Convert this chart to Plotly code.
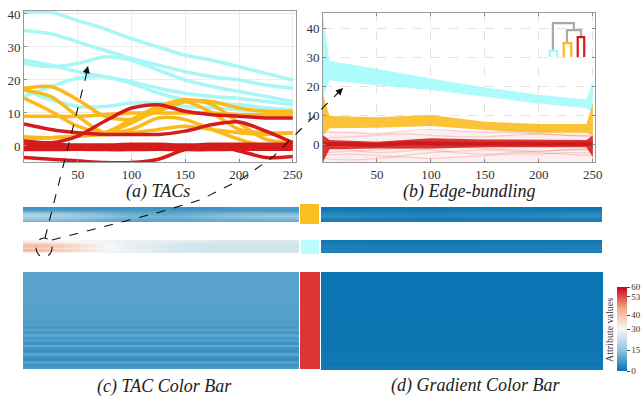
import plotly.graph_objects as go

W, H = 644, 398


def px(x):
    return x / W


def py(y):
    return 1 - y / H


CYAN = "#a8f6f6"
ORANGE = "#fbb91c"
RED = "#d41c1c"
SERIF = "Liberation Serif, Times New Roman, serif"

# ---------------- (a) TACs ----------------
tac_x = [0, 25, 50, 75, 100, 125, 150, 175, 200, 225, 250]
cyan_tacs = [
    [40.5, 40.5, 38, 35.5, 32.5, 30, 27.5, 26, 24, 22, 20],
    [35, 34, 31.5, 29, 26.5, 24.5, 22.5, 21, 20, 18.5, 17.5],
    [26, 24.5, 22.5, 21, 19.5, 17.5, 16, 15, 14.4, 13.5, 12.5],
    [25, 24, 25, 27, 26, 23, 20, 18, 16.5, 15, 13.5],
    [15, 18, 20.5, 21, 19, 16, 14, 13, 12.5, 11.5, 11],
    [17, 14, 12, 12, 13, 13, 12, 11.5, 11, 10.5, 10],
]
orange_tacs = [
    [17.5, 18, 14, 9, 8, 10.5, 13.5, 13.5, 11.5, 10.5, 10.5],
    [17, 15, 9, 4, 5, 8.5, 8, 5, 2, 0, 0],
    [14.5, 10.5, 6, 4, 7, 11, 13.5, 10, 5, 4, 4],
    [9, 9, 9, 9.5, 10, 10, 10, 10, 9.5, 9.5, 9.5],
    [2.8, 2.5, 3, 4, 8, 12, 14, 12.5, 7, 2, 1],
    [2.3, 2.5, 3, 3.5, 4, 5, 6, 5, 4, 3.5, 4],
]
red_tacs = [
    [6.7, 5, 4, 3.5, 3.5, 3.5, 4.5, 6.5, 7.3, 4.5, 1],
    [1.5, 1, 3, 7.5, 11.5, 12.5, 10.5, 9.5, 9, 8.5, 8.5],
    [0.5, 0.5, 0.3, 0.3, 0.5, 0.5, 0.3, 0.5, 0.5, 0.5, 0.5],
    [-0.4, -0.4, -0.5, -0.5, -0.4, -0.4, -0.5, -0.4, -0.4, -0.4, -0.4],
    [-1.1, -1.1, -1.0, -1.1, -1.1, -1.0, -1.1, -1.1, -1.0, -1.0, -1.0],
    [-3.5, -4, -4.5, -5, -5, -4, -1, 0.3, -1.5, -3.5, -3.2],
]

# ---------------- (b) Edge bundling ----------------
bundle_x = [0, 6, 50, 100, 150, 200, 244, 250]
cyan_top = [44, 28.6, 26, 22.6, 19.5, 17, 15.4, 22]
cyan_bot = [16, 22, 20.3, 18.6, 16.3, 14, 12.3, 11]
orange_top = [17, 9.7, 9.2, 10, 7.7, 6.9, 6.9, 14]
orange_bot = [3, 5.4, 5.6, 6.2, 4.8, 3.9, 3.9, 3]
red_top = [3, 1.4, 0.8, 2, 1.6, 1.4, 1.4, 3]
red_bot = [-6.2, -1.8, -1.5, -1.5, -1.1, -1.1, -1.1, -4.5]
pink_top = [5, 4.5, 4, 4.5, 5, 4.5, 4, 4]
pink_bot = [-6.2, -6.2, -6.2, -6.2, -6.2, -6.2, -6.2, -6.2]
faint_red = [
    [-5, -5.5, -5, -4, -3, -2.5, -2, -2.5, -3, -3.5, -4],
    [-3, -2.5, -2, -1.5, -2, -3, -3.5, -3, -2.5, -2, -2],
    [2, 2.5, 3, 3.5, 3, 2.5, 2.5, 3, 3.5, 3, 2.5],
    [-4, -3.5, -4, -4.5, -5, -4.5, -4, -3.5, -3.5, -3, -3],
    [4, 4, 3.5, 4.5, 5, 4.5, 4, 4, 3.5, 3, 3],
    [-1.5, -2, -3, -2.5, -1.5, -1, -1.5, -2, -2.5, -2, -1.5],
]
red_core = [0, 0, -0.3, 0.3, 0.2, 0.1, 0.1, 0.1, 0.1, 0.1, 0.1]

# dendrogram (data units of panel b)
dendro = [
    ([213, 213, 232.4, 232.4], [32.1, 41.7, 41.7, 39.3], "#aaaaaa"),
    ([226, 226, 239, 239], [34.8, 39.3, 39.3, 36.9], "#aaaaaa"),
    ([210, 210, 217, 217], [30, 32.1, 32.1, 30], CYAN),
    ([223, 223, 230, 230], [30, 34.8, 34.8, 30], ORANGE),
    ([236, 236, 242, 242], [30, 36.9, 36.9, 30], RED),
]

# ---------------- colour bars ----------------
strip1_left = [
    [6, 6, 6, 6, 6, 6, 6, 6, 6, 7, 7, 7],
    [10, 10, 9, 9, 8, 8, 8, 8, 8, 8, 8, 8],
    [18, 17, 15, 13, 11, 10, 10, 11, 12, 13, 13, 13],
    [19, 18, 17, 15, 13, 12, 12, 13, 14, 15, 16, 16],
    [16, 15, 14, 12, 11, 10, 10, 11, 12, 12, 13, 13],
    [12, 12, 11, 10, 9, 9, 9, 9, 10, 10, 10, 10],
]
strip1_right = [
    [1, 1, 1, 1, 1, 1, 1, 1, 1, 1, 1, 1],
    [2, 2, 2, 2, 1.5, 2, 2, 2, 2, 2, 2, 2],
    [4, 3.5, 3, 3, 3, 3, 3, 3, 3, 3.5, 4, 4],
    [5, 5, 4, 4, 3.5, 3.5, 4, 4, 4, 4.5, 5, 5],
    [2.5, 2.5, 2, 2, 2, 2, 2, 2, 2, 2.5, 2.5, 2.5],
    [2, 2, 2, 2, 2, 2, 2, 2, 2, 2, 2, 2],
]
strip2_left = [
    [31, 30, 30, 29, 28, 28, 27, 27, 26, 26, 26, 26],
    [36, 34, 32, 30, 28, 27, 26, 25, 25, 25, 25, 25],
    [42, 39, 35, 31, 28, 26, 25, 24, 24, 24, 24, 24],
    [37, 35, 33, 30, 28, 27, 26, 25, 25, 25, 25, 25],
    [43, 40, 36, 32, 29, 27, 25, 24, 24, 24, 24, 24],
    [33, 32, 31, 29, 28, 27, 26, 26, 25, 25, 25, 25],
]
strip2_right = [
    [1, 1, 1, 1, 1, 1, 1, 1, 1, 1, 1, 1],
    [1.5, 1.5, 1.5, 1.5, 1.5, 1.5, 1.5, 1.5, 1.5, 1.5, 1.5, 1.5],
    [3, 3, 2.5, 2.5, 2.5, 2.5, 2.5, 3, 3, 3, 3, 3],
    [2, 2, 2, 2, 2, 2, 2, 2, 2, 2, 2, 2],
    [3.5, 3, 3, 3, 3, 3, 3, 3, 3, 3, 3.5, 3.5],
    [2, 2, 2, 2, 2, 2, 2, 2, 2, 2, 2, 2],
]
big_left_rows = [9, 9, 9, 9, 9, 9, 9, 9, 9, 9, 8.8, 8.8, 8.6, 8.6, 8.4, 8.6, 8.2, 8.5,
                 7.6, 8.4, 7.2, 8.8, 7, 9.5, 6.8, 8, 6, 10, 6.5, 5.5, 9, 6, 5, 8.5, 5.5, 7]
big_right_rows = [0.6, 0.6, 0.6, 0.6, 0.6, 0.6, 0.6, 0.6, 0.6, 0.7, 0.6, 0.7, 0.6,
                  0.8, 0.6, 0.9, 0.7, 1.0, 0.8, 1.1, 0.9, 1.3, 1.0, 1.5]
cbar_ticks = [0, 15, 30, 40, 53, 60]
colorscale = [[0, "#0571b0"], [0.25, "#92c5de"], [0.5, "#f7f7f7"],
              [0.75, "#f4a582"], [1, "#ca0020"]]

fig = go.Figure()

# panel a
for group, col in ((cyan_tacs, CYAN), (orange_tacs, ORANGE), (red_tacs, RED)):
    for ys in group:
        fig.add_trace(go.Scatter(x=tac_x, y=ys, mode="lines",
                                 line=dict(color=col, width=3.5, shape="spline", smoothing=0.8),
                                 xaxis="x", yaxis="y", showlegend=False, hoverinfo="skip"))

# panel b
def band(top, bot, color):
    fig.add_trace(go.Scatter(x=bundle_x + bundle_x[::-1], y=top + bot[::-1], mode="lines",
                             fill="toself", fillcolor=color, line=dict(width=0),
                             xaxis="x2", yaxis="y2", showlegend=False, hoverinfo="skip"))

band(pink_top, pink_bot, "rgba(235,120,120,0.12)")
for ys in faint_red:
    fig.add_trace(go.Scatter(x=tac_x, y=ys, mode="lines",
                             line=dict(color="rgba(215,40,40,0.18)", width=1.2, shape="spline"),
                             xaxis="x2", yaxis="y2", showlegend=False, hoverinfo="skip"))
band(cyan_top, cyan_bot, "rgba(160,250,250,0.85)")
band(orange_top, orange_bot, "rgba(250,185,20,0.85)")
band(red_top, red_bot, "rgba(215,25,25,0.88)")
fig.add_trace(go.Scatter(x=tac_x, y=red_core, mode="lines",
                         line=dict(color="rgba(180,0,0,0.45)", width=4, shape="spline"),
                         xaxis="x2", yaxis="y2", showlegend=False, hoverinfo="skip"))
for xs, ys, col in dendro:
    fig.add_trace(go.Scatter(x=xs, y=ys, mode="lines", line=dict(color=col, width=2.2),
                             xaxis="x2", yaxis="y2", showlegend=False, hoverinfo="skip"))

# colour bars
heat_defs = [
    (strip1_left, 3, "best"), (strip1_right, 4, "best"),
    (strip2_left, 5, "best"), (strip2_right, 6, "best"),
    ([[v, v] for v in big_left_rows], 7, False),
    ([[v, v] for v in big_right_rows], 8, False),
]
for z, i, sm in heat_defs:
    fig.add_trace(go.Heatmap(z=z, coloraxis="coloraxis", zsmooth=sm,
                             xaxis=f"x{i}", yaxis=f"y{i}", hoverinfo="skip"))

tickfont = dict(family=SERIF, size=13, color="#333")
axis_common = dict(zeroline=False, showline=True, linecolor="#9a9a9a", ticks="inside",
                   ticklen=3, tickcolor="#888", tickfont=tickfont, showgrid=True)
layout = dict(
    width=W, height=H, margin=dict(l=0, r=0, t=0, b=0, autoexpand=False),
    paper_bgcolor="white", plot_bgcolor="white", showlegend=False,
    xaxis=dict(domain=[px(24), px(296)], range=[0, 253], tickvals=[50, 100, 150, 200, 250],
               gridcolor="#ececec", mirror=True, anchor="y", **axis_common),
    yaxis=dict(domain=[py(162), py(11)], range=[-4.85, 40.9], tickvals=[0, 10, 20, 30, 40],
               gridcolor="#ececec", mirror=True, anchor="x", **axis_common),
    xaxis2=dict(domain=[px(323), px(595)], range=[0, 252], tickvals=[50, 100, 150, 200, 250],
                gridcolor="#e2e2e2", griddash="dash", mirror="ticks", anchor="y2",
                **axis_common),
    yaxis2=dict(domain=[py(162), py(13)], range=[-6.2, 45.2], tickvals=[0, 10, 20, 30, 40],
                gridcolor="#e2e2e2", griddash="dash", mirror="ticks", anchor="x2",
                **axis_common),
    coloraxis=dict(colorscale=colorscale, cmin=0, cmax=60,
                   colorbar=dict(x=px(617), xanchor="left", xpad=0, y=py(329),
                                 yanchor="middle", ypad=0,
                                 len=84, lenmode="pixels", thickness=10, outlinewidth=0,
                                 tickvals=cbar_ticks, ticks="outside", ticklen=3,
                                 tickfont=dict(family=SERIF, size=9, color="#333"))),
)
heat_boxes = {3: (23, 299, 207, 222), 4: (321, 602, 207, 222),
              5: (23, 299, 240, 253), 6: (321, 602, 240, 253),
              7: (23, 299, 272, 369), 8: (321, 603, 272, 370)}
for i, (x0, x1, y0, y1) in heat_boxes.items():
    layout[f"xaxis{i}"] = dict(domain=[px(x0), px(x1)], visible=False, anchor=f"y{i}")
    layout[f"yaxis{i}"] = dict(domain=[py(y1), py(y0)], visible=False, anchor=f"x{i}",
                               autorange="reversed")
fig.update_layout(**layout)

# cluster colour squares
for (x0, x1, y0, y1), col in (((300, 319, 204, 224), "#fbbf22"),
                               ((301, 319, 240, 254), "#bdfcfc"),
                               ((300, 320, 272, 369), "#dc3636")):
    fig.add_shape(type="rect", xref="paper", yref="paper", x0=px(x0), x1=px(x1),
                  y0=py(y1), y1=py(y0), fillcolor=col, line=dict(width=0), layer="above")

# dashed arrows and circle
dash_line = dict(color="#111", width=1.1, dash="dash")
fig.add_shape(type="circle", xref="paper", yref="paper", x0=px(36), x1=px(52),
              y0=py(257), y1=py(238), line=dash_line)
fig.add_shape(type="line", xref="paper", yref="paper", x0=px(45), y0=py(238),
              x1=px(87), y1=py(72), line=dash_line)
pts = [(52, 240), (160, 212), (200, 200), (240, 180), (273, 157), (300, 130), (338, 93)]
path = "M " + " L ".join(f"{px(a):.5f},{py(b):.5f}" for a, b in pts)
fig.add_shape(type="path", xref="paper", yref="paper", path=path, line=dash_line)
for (hx, hy), (tx, ty) in (((88, 66), (-2.4, 9.7)), ((343, 88), (-7, 7))):
    fig.add_annotation(x=px(hx), y=py(hy), xref="paper", yref="paper", text="",
                       showarrow=True, arrowhead=2, arrowsize=1.3, arrowwidth=1.1,
                       arrowcolor="#111", ax=tx, ay=ty, standoff=0)

# captions
cap_font = dict(family=SERIF, size=18, color="#222")
for text, cx, cy in (("(a) TACs", 158, 191), ("(b) Edge-bundling", 469, 191),
                     ("(c) TAC Color Bar", 164, 386), ("(d) Gradient Color Bar", 476, 385)):
    fig.add_annotation(x=px(cx), y=py(cy), xref="paper", yref="paper", text=f"<i>{text}</i>",
                       showarrow=False, font=cap_font, xanchor="center", yanchor="middle")
fig.add_annotation(x=px(609), y=py(330), xref="paper", yref="paper", text="Attribute values",
                   textangle=-90, showarrow=False, font=dict(family=SERIF, size=10, color="#333"),
                   xanchor="center", yanchor="middle")

fig.write_html("out.html")
